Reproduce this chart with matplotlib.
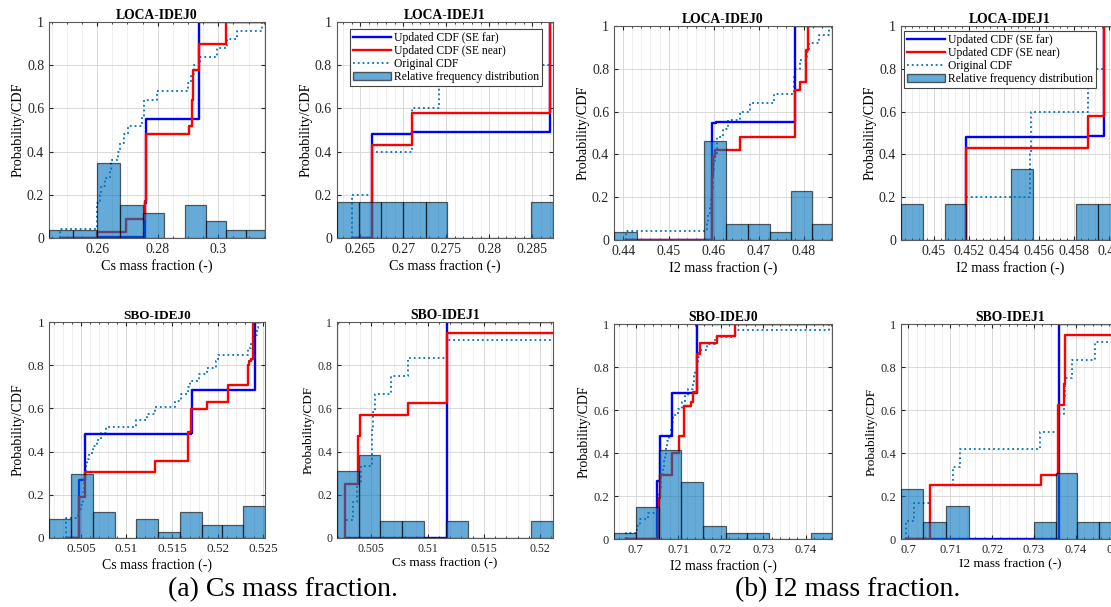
import numpy as np
import matplotlib
matplotlib.use("Agg")
import matplotlib.pyplot as plt
from matplotlib.lines import Line2D
from matplotlib.patches import Patch
from matplotlib.ticker import FixedLocator, FixedFormatter, MultipleLocator

plt.rcParams['font.family'] = ['Liberation Serif', 'DejaVu Serif']

# ---------------- data ----------------
# step lines: x = [start, jump1, jump2, ..., end], y = value on each segment

# (a) Cs, LOCA-IDEJ0
c1_edges = [0.2441, 0.2521, 0.2600, 0.2675, 0.2752, 0.2820, 0.2890, 0.2958, 0.3025, 0.3090, 0.3154]
c1_freq = [0.038, 0.038, 0.346, 0.154, 0.115, 0.0, 0.154, 0.077, 0.038, 0.038]
c1_orig_x = [0.2477, 0.2477, 0.2598, 0.2601, 0.2609, 0.2614, 0.2625, 0.2642, 0.2645, 0.2669, 0.2677,
             0.2688, 0.2702, 0.2747, 0.2754, 0.2796, 0.2901, 0.2909, 0.2921, 0.2939, 0.2994, 0.3028,
             0.3061, 0.3143, 0.3154]
c1_orig_y = [0, 0.04, 0.12, 0.16, 0.20, 0.24, 0.28, 0.32, 0.36, 0.40, 0.44, 0.48, 0.52, 0.56, 0.64,
             0.68, 0.72, 0.76, 0.80, 0.84, 0.88, 0.92, 0.96, 1.0]
c1_far_x = [0.2480, 0.2600, 0.2758, 0.2760, 0.2937, 0.3149]
c1_far_y = [0, 0.005, 0.16, 0.55, 1.0]
c1_near_x = [0.2480, 0.2600, 0.2694, 0.2758, 0.2760, 0.2904, 0.2912, 0.2917, 0.2937, 0.3024, 0.3149]
c1_near_y = [0, 0.03, 0.09, 0.17, 0.48, 0.52, 0.64, 0.78, 0.90, 1.0]

# (a) Cs, LOCA-IDEJ1
c2_edges = [0.2623, 0.26487, 0.26747, 0.2700, 0.2726, 0.27512, 0.28488, 0.2874]
c2_freq = [0.167, 0.167, 0.167, 0.167, 0.167, 0.0, 0.167]
c2_orig_x = [0.26409, 0.26409, 0.26642, 0.27105, 0.27415, 0.28701, 0.2874]
c2_orig_y = [0, 0.2, 0.4, 0.6, 0.8, 1.0]
c2_far_x = [0.2642, 0.26642, 0.27105, 0.28701, 0.2874]
c2_far_y = [0, 0.48, 0.49, 1.0]
c2_near_x = [0.2642, 0.26642, 0.27105, 0.28701, 0.2874]
c2_near_y = [0, 0.43, 0.58, 1.0]

# (b) I2, LOCA-IDEJ0
i1_edges = [0.43793, 0.44304, 0.44785, 0.45289, 0.45785, 0.46274, 0.46755, 0.47237, 0.47711, 0.48178, 0.48622]
i1_freq = [0.038, 0, 0, 0, 0.462, 0.077, 0.077, 0.038, 0.231, 0.077]
i1_orig_x = [0.44067, 0.44067, 0.45844, 0.45881, 0.45918, 0.45933, 0.45956, 0.45978, 0.45993, 0.46007,
             0.46030, 0.46067, 0.46081, 0.46200, 0.46326, 0.46585, 0.46807, 0.47326, 0.47770, 0.47785,
             0.47807, 0.47904, 0.48067, 0.48104, 0.48326, 0.48548, 0.48622]
i1_orig_y = [0, 0.04, 0.08, 0.12, 0.16, 0.20, 0.24, 0.28, 0.32, 0.36, 0.40, 0.44, 0.48, 0.52, 0.56,
             0.60, 0.64, 0.68, 0.72, 0.76, 0.80, 0.84, 0.88, 0.92, 0.96, 1.0]
i1_far_x = [0.44067, 0.45956, 0.45970, 0.46044, 0.47807, 0.48548]
i1_far_y = [0, 0.31, 0.545, 0.55, 1.0]
i1_near_x = [0.44067, 0.45956, 0.45978, 0.46030, 0.46585, 0.47807, 0.47904, 0.48052, 0.48081, 0.48548]
i1_near_y = [0, 0.30, 0.39, 0.42, 0.48, 0.70, 0.74, 0.89, 1.0]

# (b) I2, LOCA-IDEJ1
i2_edges = [0.44815, 0.44939, 0.45067, 0.45187, 0.45314, 0.45442, 0.45566, 0.45692, 0.45813, 0.45933, 0.46055]
i2_freq = [0.167, 0, 0.167, 0, 0, 0.333, 0, 0, 0.167, 0.167]
i2_orig_x = [0.45187, 0.45187, 0.45549, 0.45556, 0.45876, 0.45968, 0.46055]
i2_orig_y = [0, 0.2, 0.4, 0.6, 0.8, 1.0]
i2_far_x = [0.45187, 0.45187, 0.45876, 0.45972, 0.46055]
i2_far_y = [0, 0.48, 0.488, 1.0]
i2_near_x = [0.45187, 0.45187, 0.45876, 0.45972, 0.46055]
i2_near_y = [0, 0.43, 0.58, 1.0]

# (a) Cs, SBO-IDEJ0
c3_edges = [0.5015, 0.50388, 0.50634, 0.50875, 0.5111, 0.51348, 0.51586, 0.51824, 0.52051, 0.52282, 0.5252]
c3_freq = [0.088, 0.294, 0.118, 0, 0.088, 0.029, 0.118, 0.059, 0.059, 0.147]
c3_orig_x = [0.50340, 0.50340, 0.50469, 0.50505, 0.50524, 0.50535, 0.50542, 0.50553, 0.50568, 0.50590,
             0.50634, 0.50677, 0.50725, 0.50773, 0.51110, 0.51220, 0.51311, 0.51531, 0.51604, 0.51677,
             0.51696, 0.51798, 0.51886, 0.51982, 0.52007, 0.52337, 0.52363, 0.52399, 0.52428, 0.52447, 0.5246]
c3_orig_y = [0, 0.091, 0.121, 0.152, 0.212, 0.273, 0.303, 0.333, 0.364, 0.394, 0.424, 0.455, 0.485,
             0.515, 0.545, 0.576, 0.606, 0.636, 0.667, 0.697, 0.727, 0.758, 0.788, 0.818, 0.848,
             0.879, 0.909, 0.939, 0.970, 1.0]
c3_far_x = [0.50359, 0.50476, 0.50549, 0.51703, 0.51714, 0.52410, 0.5246]
c3_far_y = [0, 0.27, 0.48, 0.485, 0.685, 1.0]
c3_near_x = [0.50359, 0.50476, 0.50549, 0.51311, 0.51677, 0.51703, 0.51886, 0.52117, 0.52337, 0.52348,
             0.52363, 0.52392, 0.5246]
c3_near_y = [0, 0.19, 0.305, 0.355, 0.49, 0.595, 0.63, 0.71, 0.80, 0.82, 0.83, 1.0]

# (a) Cs, SBO-IDEJ1
c4_edges = [0.50194, 0.50387, 0.50580, 0.50776, 0.50969, 0.51160, 0.51356, 0.51549, 0.51733, 0.51920, 0.52113]
c4_freq = [0.308, 0.385, 0.077, 0.077, 0, 0.077, 0, 0, 0, 0.077]
c4_orig_x = [0.50268, 0.50268, 0.50337, 0.50372, 0.50411, 0.50509, 0.50518, 0.50530, 0.50678, 0.50827,
             0.51168, 0.52113]
c4_orig_y = [0, 0.083, 0.167, 0.25, 0.333, 0.5, 0.583, 0.667, 0.75, 0.833, 0.917]
c4_far_x = [0.50268, 0.51174, 0.52113]
c4_far_y = [0, 1.0]
c4_near_x = [0.50268, 0.50268, 0.50381, 0.50402, 0.50827, 0.51174, 0.52113]
c4_near_y = [0, 0.25, 0.47, 0.57, 0.625, 0.95]

# (b) I2, SBO-IDEJ0
i3_edges = [0.69488, 0.70016, 0.70535, 0.71055, 0.71591, 0.72118, 0.72614, 0.73126, 0.73638, 0.74126, 0.74622]
i3_freq = [0.029, 0.147, 0.412, 0.265, 0.059, 0.029, 0.029, 0, 0, 0.029]
i3_orig_x = [0.69780, 0.69780, 0.70031, 0.70094, 0.70291, 0.70488, 0.70528, 0.70551, 0.70567, 0.70583,
             0.70598, 0.70630, 0.70661, 0.70693, 0.70709, 0.70740, 0.70772, 0.70819, 0.70850, 0.70882,
             0.71000, 0.71079, 0.71157, 0.71236, 0.71339, 0.71370, 0.71402, 0.71433, 0.71457, 0.71496,
             0.71685, 0.71866, 0.72339, 0.74543, 0.7460]
i3_orig_y = [0, 0.030, 0.061, 0.091, 0.121, 0.152, 0.182, 0.212, 0.242, 0.273, 0.303, 0.333, 0.364,
             0.394, 0.424, 0.455, 0.485, 0.515, 0.545, 0.576, 0.606, 0.636, 0.667, 0.697, 0.727,
             0.758, 0.788, 0.818, 0.848, 0.879, 0.909, 0.939, 0.970, 1.0]
i3_far_x = [0.69780, 0.70504, 0.70567, 0.70843, 0.71433, 0.74543]
i3_far_y = [0, 0.27, 0.48, 0.68, 1.0]
i3_near_x = [0.69780, 0.70535, 0.70567, 0.70843, 0.71016, 0.71134, 0.71291, 0.71354, 0.71433, 0.71512,
             0.71906, 0.72339, 0.74543]
i3_near_y = [0, 0.19, 0.30, 0.40, 0.48, 0.62, 0.635, 0.685, 0.86, 0.91, 0.945, 1.0]

# (b) I2, SBO-IDEJ1
i4_edges = [0.69824, 0.7036, 0.70904, 0.7144, 0.7196, 0.7248, 0.7300, 0.7352, 0.7404, 0.74544, 0.75032]
i4_freq = [0.231, 0.077, 0.154, 0, 0, 0, 0.077, 0.308, 0.077, 0.077]
i4_orig_x = [0.69944, 0.69944, 0.70136, 0.7052, 0.71064, 0.71224, 0.73144, 0.73576, 0.7372, 0.73736,
             0.7392, 0.74464, 0.75032]
i4_orig_y = [0, 0.083, 0.167, 0.25, 0.333, 0.417, 0.5, 0.583, 0.667, 0.75, 0.833, 0.917]
i4_far_x = [0.69944, 0.736, 0.736, 0.75032]
i4_far_y = [0, 0.63, 1.0]
i4_near_x = [0.69944, 0.7052, 0.7316, 0.73576, 0.7372, 0.73744, 0.75032]
i4_near_y = [0, 0.25, 0.30, 0.625, 0.72, 0.95]

# ticks
c1_ticks = [0.26, 0.28, 0.30]
c1_labels = ["0.26", "0.28", "0.3"]
c2_ticks = [0.265, 0.27, 0.275, 0.28, 0.285]
c2_labels = ["0.265", "0.27", "0.275", "0.28", "0.285"]
i1_ticks = [0.44, 0.45, 0.46, 0.47, 0.48]
i1_labels = ["0.44", "0.45", "0.46", "0.47", "0.48"]
i2_ticks = [0.45, 0.452, 0.454, 0.456, 0.458, 0.46]
i2_labels = ["0.45", "0.452", "0.454", "0.456", "0.458", "0.46"]
c3_ticks = [0.505, 0.51, 0.515, 0.52, 0.525]
c3_labels = ["0.505", "0.51", "0.515", "0.52", "0.525"]
c4_ticks = [0.505, 0.51, 0.515, 0.52]
c4_labels = ["0.505", "0.51", "0.515", "0.52"]
i3_ticks = [0.70, 0.71, 0.72, 0.73, 0.74]
i3_labels = ["0.7", "0.71", "0.72", "0.73", "0.74"]
i4_ticks = [0.70, 0.71, 0.72, 0.73, 0.74, 0.75]
i4_labels = ["0.7", "0.71", "0.72", "0.73", "0.74", "0.75"]
y_ticks = [0, 0.2, 0.4, 0.6, 0.8, 1.0]
y_labels = ["0", "0.2", "0.4", "0.6", "0.8", "1"]

legend_labels = ["Updated CDF (SE far)", "Updated CDF (SE near)", "Original CDF",
                 "Relative frequency distribution"]

hist_color = (0, 0.447, 0.741)
far_color = "#0000ff"
near_color = "#ff0000"
orig_color = "#0072bd"


def steps(ax, xs, ys, **kw):
    ax.step(xs[:len(ys) + 1], list(ys) + [ys[-1]], where="post", **kw)


def panel(rect, title, edges, freq, orig, far, near, ticks, labels, minor,
          xlabel, tfs, lfs, ttl_fs, legend_at=None):
    ax = fig.add_axes(rect)
    steps(ax, orig[0], orig[1], color=orig_color, ls=":", lw=1.3, zorder=2)
    steps(ax, far[0], far[1], color=far_color, lw=1.7, zorder=2)
    steps(ax, near[0], near[1], color=near_color, lw=1.7, zorder=2)
    ax.bar(edges[:-1], freq, width=np.diff(edges), align="edge", color=hist_color,
           alpha=0.6, edgecolor="black", linewidth=0.9, zorder=3)
    ax.set_xlim(edges[0], edges[-1])
    ax.set_ylim(0, 1)
    ax.xaxis.set_major_locator(FixedLocator(ticks))
    ax.xaxis.set_major_formatter(FixedFormatter(labels))
    ax.xaxis.set_minor_locator(MultipleLocator(minor))
    ax.yaxis.set_major_locator(FixedLocator(y_ticks))
    ax.yaxis.set_major_formatter(FixedFormatter(y_labels))
    ax.grid(True, which="major", color="#d9d9d9", lw=0.7, zorder=0)
    ax.grid(True, which="minor", axis="x", color="#ebebeb", lw=0.6, zorder=0)
    ax.set_axisbelow(True)
    ax.tick_params(which="both", direction="in", top=True, right=True,
                   labelsize=tfs, colors="#262626", length=3)
    ax.tick_params(which="minor", length=1.5)
    for s in ax.spines.values():
        s.set_color("#5a5a5a")
        s.set_linewidth(0.8)
    ax.set_title(title, fontsize=ttl_fs, fontweight="bold", pad=2)
    ax.set_xlabel(xlabel, fontsize=lfs, labelpad=2)
    ax.set_ylabel("Probability/CDF", fontsize=lfs, labelpad=2)
    if legend_at is not None:
        handles = [Line2D([], [], color=far_color, lw=1.7),
                   Line2D([], [], color=near_color, lw=1.7),
                   Line2D([], [], color=orig_color, ls=":", lw=1.3),
                   Patch(facecolor=hist_color, alpha=0.6, edgecolor="black")]
        leg = ax.legend(handles, legend_labels, loc="upper left", bbox_to_anchor=legend_at,
                        fontsize=8.4, frameon=True, fancybox=False, framealpha=1,
                        edgecolor="#444444", borderpad=0.25, labelspacing=0.1,
                        handlelength=3.3, handletextpad=0.25, borderaxespad=0)
        leg.get_frame().set_linewidth(0.8)
        leg.set_zorder(5)
    return ax


fig = plt.figure(figsize=(11.11, 6.07), dpi=100)

panel([0.0441, 0.6079, 0.1944, 0.3558], "LOCA-IDEJ0", c1_edges, c1_freq,
      (c1_orig_x, c1_orig_y), (c1_far_x, c1_far_y), (c1_near_x, c1_near_y),
      c1_ticks, c1_labels, 0.005, "Cs mass fraction (-)", 10, 10.2, 9.8)
panel([0.3033, 0.6079, 0.1944, 0.3558], "LOCA-IDEJ1", c2_edges, c2_freq,
      (c2_orig_x, c2_orig_y), (c2_far_x, c2_far_y), (c2_near_x, c2_near_y),
      c2_ticks, c2_labels, 0.001, "Cs mass fraction (-)", 10, 10.2, 9.8,
      legend_at=(0.06, 0.968))
panel([0.5527, 0.6046, 0.1962, 0.3526], "LOCA-IDEJ0", i1_edges, i1_freq,
      (i1_orig_x, i1_orig_y), (i1_far_x, i1_far_y), (i1_near_x, i1_near_y),
      i1_ticks, i1_labels, 0.002, "I2 mass fraction (-)", 10, 10.2, 9.8)
panel([0.8110, 0.6046, 0.1962, 0.3526], "LOCA-IDEJ1", i2_edges, i2_freq,
      (i2_orig_x, i2_orig_y), (i2_far_x, i2_far_y), (i2_near_x, i2_near_y),
      i2_ticks, i2_labels, 0.0004, "I2 mass fraction (-)", 10, 10.2, 9.8,
      legend_at=(0.014, 0.977))
panel([0.0441, 0.1137, 0.1944, 0.3558], "SBO-IDEJ0", c3_edges, c3_freq,
      (c3_orig_x, c3_orig_y), (c3_far_x, c3_far_y), (c3_near_x, c3_near_y),
      c3_ticks, c3_labels, 0.001, "Cs mass fraction (-)", 9.5, 10, 9.5)
panel([0.3033, 0.1137, 0.1944, 0.3558], "SBO-IDEJ1", c4_edges, c4_freq,
      (c4_orig_x, c4_orig_y), (c4_far_x, c4_far_y), (c4_near_x, c4_near_y),
      c4_ticks, c4_labels, 0.001, "Cs mass fraction (-)", 8.5, 9.5, 9.8)
panel([0.5527, 0.1120, 0.1962, 0.3542], "SBO-IDEJ0", i3_edges, i3_freq,
      (i3_orig_x, i3_orig_y), (i3_far_x, i3_far_y), (i3_near_x, i3_near_y),
      i3_ticks, i3_labels, 0.002, "I2 mass fraction (-)", 9, 10, 9.8)
panel([0.8110, 0.1120, 0.1962, 0.3542], "SBO-IDEJ1", i4_edges, i4_freq,
      (i4_orig_x, i4_orig_y), (i4_far_x, i4_far_y), (i4_near_x, i4_near_y),
      i4_ticks, i4_labels, 0.002, "I2 mass fraction (-)", 9, 9.5, 9.8)

fig.text(0.2547, 0.028, "(a) Cs mass fraction.", fontsize=20, ha="center", va="center")
fig.text(0.7630, 0.028, "(b) I2 mass fraction.", fontsize=20, ha="center", va="center")

fig.savefig("out.png", dpi=100)
